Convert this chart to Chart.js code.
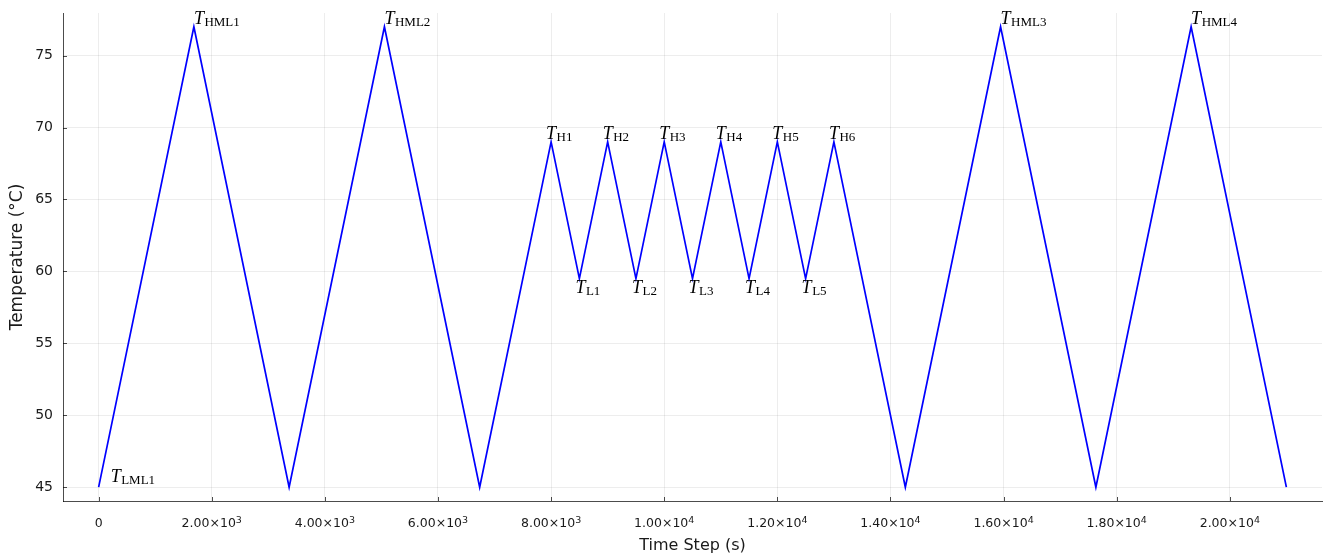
<!DOCTYPE html>
<html>
<head>
<meta charset="utf-8">
<script src="https://cdn.jsdelivr.net/npm/chart.js@4"></script>
<style>
    html, body { margin: 0; padding: 0; background: #fff; }
    #wrap { width: 1325px; height: 559px; }
</style>
</head>
<body>
<div id="wrap"><canvas id="tempChart" width="1325" height="559"></canvas></div>
<script>
// temperature profile
var timeSteps = [0, 1684, 3368, 5053, 6737, 8000, 8500, 9000, 9500, 10000, 10500, 11000,
    11500, 12000, 12500, 13000, 14263, 15947, 17632, 19316, 21000];
var temps = [45, 77, 45, 77, 45, 69, 59.5, 69, 59.5, 69, 59.5, 69,
    59.5, 69, 59.5, 69, 45, 77, 45, 77, 45];

// "mantissa^exponent" tick labels, exponent drawn raised
var xTicks = [0, 2000, 4000, 6000, 8000, 10000, 12000, 14000, 16000, 18000, 20000];
var xTickLabels = ["0", "2.00×10^3", "4.00×10^3", "6.00×10^3", "8.00×10^3", "1.00×10^4",
    "1.20×10^4", "1.40×10^4", "1.60×10^4", "1.80×10^4", "2.00×10^4"];
var yTicks = [45, 50, 55, 60, 65, 70, 75];
var yTickLabels = ["45", "50", "55", "60", "65", "70", "75"];

// point labels: subscript text, index of the point, where it sits
var labelSubs = ["LML1", "HML1", "HML2", "H1", "L1", "H2", "L2", "H3", "L3", "H4", "L4",
    "H5", "L5", "H6", "HML3", "HML4"];
var labelPoints = [0, 1, 3, 5, 6, 7, 8, 9, 10, 11, 12, 13, 14, 15, 17, 19];
var labelPlaces = ["right", "top", "top", "topLeft", "bottom", "topLeft", "bottom", "topLeft",
    "bottom", "topLeft", "bottom", "topLeft", "bottom", "topLeft", "top", "top"];

window.addEventListener("load", function (event) {
    var placeOffsets = {
        right: { dx: 12, dy: -5 },
        top: { dx: 0, dy: -3 },
        topLeft: { dx: -5, dy: -3 },
        bottom: { dx: -4, dy: 14 }
    };
    var textColor = "#1a1a1a";
    var tickFont = "12.5px 'DejaVu Sans'";
    var yTickFont = "14px 'DejaVu Sans'";
    var expFont = "9.5px 'DejaVu Sans'";

    var extent = function (arr) {
        let lo = Math.min.apply(null, arr), hi = Math.max.apply(null, arr);
        let pad = (hi - lo) * 0.03;
        return { min: lo - pad, max: hi + pad };
    };
    let xRange = extent(timeSteps);
    let yRange = extent(temps);

    var pointLabels = {
        id: "pointLabels",
        afterDatasetsDraw: function (chart) {
            let ctx = chart.ctx;
            let xs = chart.scales.x, ys = chart.scales.y;
            ctx.save();
            ctx.fillStyle = "#000";
            ctx.textBaseline = "alphabetic";
            ctx.textAlign = "left";
            labelSubs.forEach(function (sub, i) {
                let idx = labelPoints[i];
                let off = placeOffsets[labelPlaces[i]];
                let px = xs.getPixelForValue(timeSteps[idx]) + off.dx;
                let py = ys.getPixelForValue(temps[idx]) + off.dy;
                ctx.font = "italic 18px 'Liberation Serif'";
                ctx.fillText("T", px, py);
                let w = ctx.measureText("T").width;
                ctx.font = "13px 'Liberation Serif'";
                ctx.fillText(sub, px + w + 0.5, py + 2);
            });
            ctx.restore();
        },
        afterDraw: function (chart) {
            let ctx = chart.ctx, area = chart.chartArea;
            let xs = chart.scales.x, ys = chart.scales.y;
            ctx.save();
            // short inward tick marks like the original
            ctx.strokeStyle = "rgba(0,0,0,0.7)";
            ctx.lineWidth = 1;
            ctx.beginPath();
            xTicks.forEach(function (v) {
                let px = Math.round(xs.getPixelForValue(v)) + 0.5;
                ctx.moveTo(px, area.bottom);
                ctx.lineTo(px, area.bottom - 4);
            });
            yTicks.forEach(function (v) {
                let py = Math.round(ys.getPixelForValue(v)) + 0.5;
                ctx.moveTo(area.left, py);
                ctx.lineTo(area.left + 4, py);
            });
            ctx.stroke();

            // tick labels
            ctx.fillStyle = textColor;
            ctx.textBaseline = "middle";
            ctx.textAlign = "right";
            ctx.font = yTickFont;
            yTicks.forEach(function (v, i) {
                ctx.fillText(yTickLabels[i], area.left - 10, ys.getPixelForValue(v));
            });
            ctx.textBaseline = "alphabetic";
            ctx.textAlign = "left";
            xTicks.forEach(function (v, i) {
                let parts = xTickLabels[i].split("^");
                ctx.font = tickFont;
                let w1 = ctx.measureText(parts[0]).width;
                let w2 = 0;
                if (parts[1]) {
                    ctx.font = expFont;
                    w2 = ctx.measureText(parts[1]).width;
                }
                let x0 = xs.getPixelForValue(v) - (w1 + w2) / 2;
                let base = area.bottom + 26;
                ctx.font = tickFont;
                ctx.fillText(parts[0], x0, base);
                if (parts[1]) {
                    ctx.font = expFont;
                    ctx.fillText(parts[1], x0 + w1, base - 4);
                }
            });
            ctx.restore();
        }
    };

    let data = {
        datasets: [{
            label: "Temperature",
            data: timeSteps.map((t, i) => ({ x: t, y: temps[i] })),
            borderColor: "rgb(0, 0, 255)",
            backgroundColor: "rgb(0, 0, 255)",
            borderWidth: 1.7,
            pointRadius: 0,
            tension: 0,
            fill: false
        }]
    };

    let config = {
        type: "line",
        data: data,
        plugins: [pointLabels],
        options: {
            responsive: false,
            animation: false,
            layout: { padding: { top: 13, right: 3, left: 0, bottom: 0 } },
            plugins: {
                legend: { display: false },
                tooltip: { enabled: false }
            },
            scales: {
                x: {
                    type: "linear",
                    min: xRange.min,
                    max: xRange.max,
                    afterBuildTicks: function (scale) {
                        scale.ticks = xTicks.map(v => ({ value: v }));
                    },
                    afterFit: function (scale) { scale.height = 58; },
                    ticks: { display: false },
                    grid: { color: "rgba(0,0,0,0.07)", lineWidth: 1, drawTicks: false },
                    border: { display: true, color: "rgba(0,0,0,0.7)", width: 1 },
                    title: {
                        display: true,
                        text: "Time Step (s)",
                        color: textColor,
                        font: { family: "'DejaVu Sans'", size: 16 },
                        padding: { top: 0, bottom: 4 }
                    }
                },
                y: {
                    type: "linear",
                    min: yRange.min,
                    max: yRange.max,
                    afterBuildTicks: function (scale) {
                        scale.ticks = yTicks.map(v => ({ value: v }));
                    },
                    afterFit: function (scale) { scale.width = 63; },
                    ticks: { display: false },
                    grid: { color: "rgba(0,0,0,0.07)", lineWidth: 1, drawTicks: false },
                    border: { display: true, color: "rgba(0,0,0,0.7)", width: 1 },
                    title: {
                        display: true,
                        text: "Temperature (°C)",
                        color: textColor,
                        font: { family: "'DejaVu Sans'", size: 17 },
                        padding: { top: 7, bottom: 0 }
                    }
                }
            }
        }
    };

    var ctx = document.getElementById("tempChart");
    new Chart(ctx, config);
}, false);
</script>
</body>
</html>
